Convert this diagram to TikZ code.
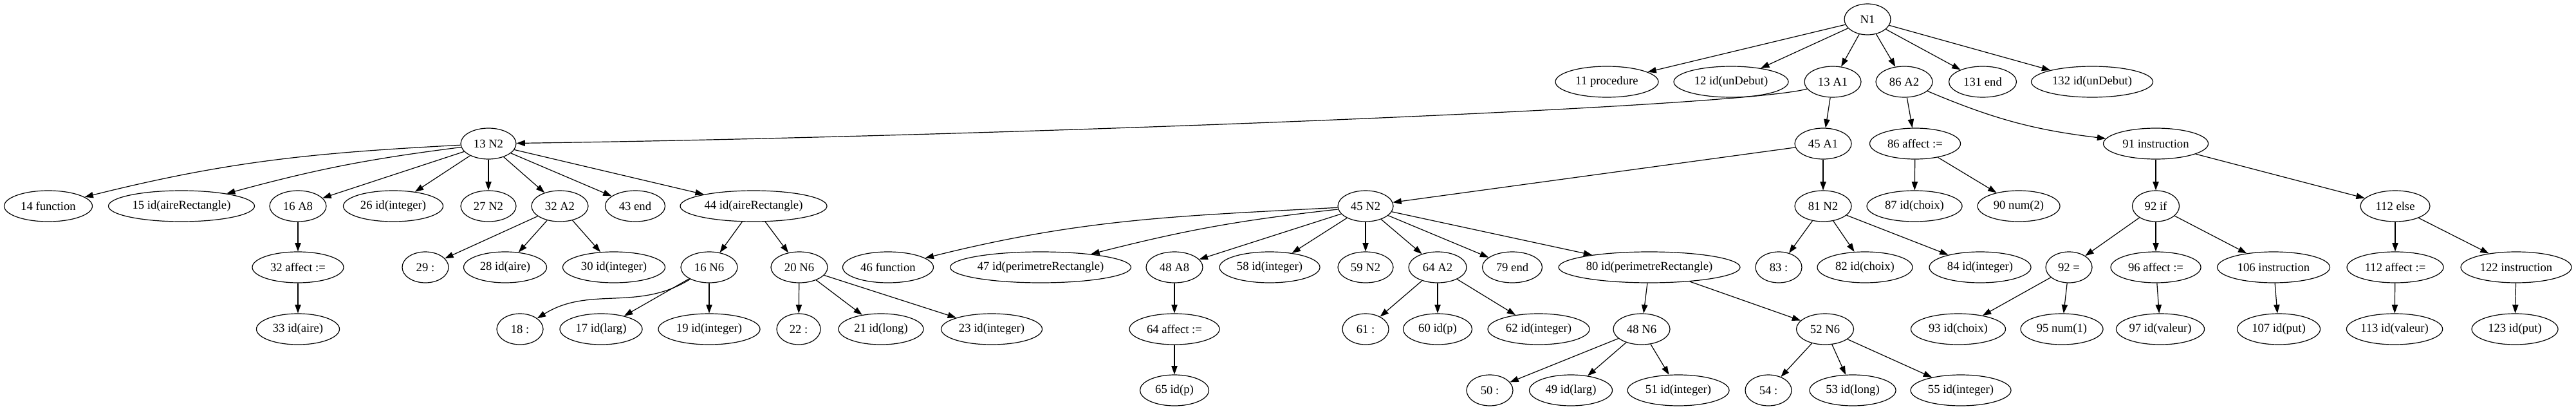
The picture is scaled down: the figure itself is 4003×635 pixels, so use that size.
\documentclass[tikz,border=0pt]{standalone}
\usepackage{fontspec}
\setmainfont{Liberation Serif}
\usetikzlibrary{arrows.meta,shapes.geometric}
\begin{document}
\begin{tikzpicture}[x=0.75pt,y=0.75pt,
  nd/.style={ellipse,draw,line width=0.9pt,inner sep=0pt,minimum height=36pt,
    font=\fontsize{14pt}{16pt}\selectfont},
  wd/.style={minimum width=#1*0.75pt},
  ed/.style={-{Triangle[length=10pt,width=7pt]},line width=0.9pt}]
\useasboundingbox (0,0) rectangle (4003,-635);
% rank 0
\node[nd,wd=72]  (N1)   at (2902,-30)  {N1};
% rank 1
\node[nd,wd=160] (p11)  at (2497,-127) {11 procedure};
\node[nd,wd=178] (p12)  at (2690,-127) {12 id(unDebut)};
\node[nd,wd=88]  (a13)  at (2848,-127) {13 A1};
\node[nd,wd=88]  (a86)  at (2959,-127) {86 A2};
\node[nd,wd=105] (e131) at (3081,-127) {131 end};
\node[nd,wd=189] (p132) at (3251,-127) {132 id(unDebut)};
% rank 2
\node[nd,wd=86]  (n13)  at (759,-223)  {13 N2};
\node[nd,wd=88]  (a45)  at (2833,-223) {45 A1};
\node[nd,wd=141] (f86)  at (2976,-223) {86 affect :=};
\node[nd,wd=163] (i91)  at (3350,-223) {91 instruction};
% rank 3
\node[nd,wd=137] (f14)  at (75,-320)   {14 function};
\node[nd,wd=227] (p15)  at (282,-320)  {15 id(aireRectangle)};
\node[nd,wd=88]  (a16)  at (463,-320)  {16 A8};
\node[nd,wd=155] (p26)  at (611,-320)  {26 id(integer)};
\node[nd,wd=86]  (n27)  at (759,-320)  {27 N2};
\node[nd,wd=88]  (a32)  at (870,-320)  {32 A2};
\node[nd,wd=93]  (e43)  at (987,-320)  {43 end};
\node[nd,wd=228] (p44)  at (1171,-320) {44 id(aireRectangle)};
\node[nd,wd=86]  (n45)  at (2122,-320) {45 N2};
\node[nd,wd=88]  (n81)  at (2833,-320) {81 N2};
\node[nd,wd=148] (p87)  at (2975,-320) {87 id(choix)};
\node[nd,wd=128] (p90)  at (3137,-320) {90 num(2)};
\node[nd,wd=73]  (i92)  at (3350,-320) {92 if};
\node[nd,wd=108] (e112) at (3722,-320) {112 else};
% rank 4
\node[nd,wd=142] (f32)  at (463,-415)  {32 affect :=};
\node[nd,wd=72]  (c29)  at (661,-415)  {29 :};
\node[nd,wd=129] (p28)  at (785,-415)  {28 id(aire)};
\node[nd,wd=159] (p30)  at (954,-415)  {30 id(integer)};
\node[nd,wd=88]  (n16)  at (1102,-415) {16 N6};
\node[nd,wd=88]  (n20)  at (1242,-415) {20 N6};
\node[nd,wd=141] (f46)  at (1380,-415) {46 function};
\node[nd,wd=281] (p47)  at (1617,-415) {47 id(perimetreRectangle)};
\node[nd,wd=88]  (a48)  at (1825,-415) {48 A8};
\node[nd,wd=156] (p58)  at (1973,-415) {58 id(integer)};
\node[nd,wd=86]  (n59)  at (2122,-415) {59 N2};
\node[nd,wd=90]  (a64)  at (2234,-415) {64 A2};
\node[nd,wd=93]  (e79)  at (2350,-415) {79 end};
\node[nd,wd=282] (p80)  at (2563,-415) {80 id(perimetreRectangle)};
\node[nd,wd=72]  (c83)  at (2764,-415) {83 :};
\node[nd,wd=148] (p82)  at (2898,-415) {82 id(choix)};
\node[nd,wd=158] (p84)  at (3077,-415) {84 id(integer)};
\node[nd,wd=72]  (q92)  at (3215,-415) {92 =};
\node[nd,wd=140] (f96)  at (3350,-415) {96 affect :=};
\node[nd,wd=175] (i106) at (3533,-415) {106 instruction};
\node[nd,wd=150] (f112) at (3722,-415) {112 affect :=};
\node[nd,wd=172] (i122) at (3910,-415) {122 instruction};
% rank 5
\node[nd,wd=129] (p33)  at (463,-511)  {33 id(aire)};
\node[nd,wd=72]  (c18)  at (808,-511)  {18 :};
\node[nd,wd=128] (p17)  at (934,-511)  {17 id(larg)};
\node[nd,wd=158] (p19)  at (1102,-511) {19 id(integer)};
\node[nd,wd=68]  (c22)  at (1241,-511) {22 :};
\node[nd,wd=132] (p21)  at (1369,-511) {21 id(long)};
\node[nd,wd=157] (p23)  at (1541,-511) {23 id(integer)};
\node[nd,wd=140] (f64)  at (1825,-511) {64 affect :=};
\node[nd,wd=72]  (c61)  at (2122,-511) {61 :};
\node[nd,wd=107] (p60)  at (2234,-511) {60 id(p)};
\node[nd,wd=158] (p62)  at (2391,-511) {62 id(integer)};
\node[nd,wd=88]  (n48)  at (2551,-511) {48 N6};
\node[nd,wd=89]  (n52)  at (2836,-511) {52 N6};
\node[nd,wd=147] (p93)  at (3043,-511) {93 id(choix)};
\node[nd,wd=128] (p95)  at (3204,-511) {95 num(1)};
\node[nd,wd=125] (p97)  at (3357,-511) {97 id(valeur)};
\node[nd,wd=129] (p107) at (3541,-511) {107 id(put)};
\node[nd,wd=140] (p113) at (3721,-511) {113 id(valeur)};
\node[nd,wd=134] (p123) at (3908,-511) {123 id(put)};
% rank 6
\node[nd,wd=107] (p65)  at (1825,-606) {65 id(p)};
\node[nd,wd=72]  (c50)  at (2315,-606) {50 :};
\node[nd,wd=129] (p49)  at (2441,-606) {49 id(larg)};
\node[nd,wd=158] (p51)  at (2608,-606) {51 id(integer)};
\node[nd,wd=72]  (c54)  at (2748,-606) {54 :};
\node[nd,wd=134] (p53)  at (2879,-606) {53 id(long)};
\node[nd,wd=156] (p55)  at (3047,-606) {55 id(integer)};
% straight edges
\foreach \a/\b in {N1/p11,N1/p12,N1/a13,N1/a86,N1/e131,N1/p132,
  a13/a45,a86/f86,
  n13/a16,n13/p26,n13/n27,n13/a32,n13/e43,n13/p44,
  a16/f32,f32/p33,a32/c29,a32/p28,a32/p30,p44/n16,p44/n20,
  n16/p17,n16/p19,n20/c22,n20/p21,n20/p23,
  a45/n45,a45/n81,
  n45/a48,n45/p58,n45/n59,n45/a64,n45/e79,n45/p80,
  a48/f64,f64/p65,a64/c61,a64/p60,a64/p62,p80/n48,p80/n52,
  n48/c50,n48/p49,n48/p51,n52/c54,n52/p53,n52/p55,
  n81/c83,n81/p82,n81/p84,f86/p87,f86/p90,
  i91/i92,i91/e112,i92/q92,i92/f96,i92/i106,q92/p93,q92/p95,
  f96/p97,i106/p107,e112/f112,e112/i122,f112/p113,i122/p123}
  \draw[ed] (\a) -- (\b);
% curved edges
\draw[ed] (a13) .. controls (2700,-168) and (1500,-213) .. (n13);
\draw[ed] (a86) to[bend right=8] (i91);
\draw[ed] (n13) to[out=183,in=14] (f14);
\draw[ed] (n13) to[bend right=4] (p15);
\draw[ed] (n45) to[out=183,in=14] (f46);
\draw[ed] (n45) to[bend right=4] (p47);
\draw[ed] (n16) to[out=212,in=32] (c18);
\end{tikzpicture}
\end{document}
